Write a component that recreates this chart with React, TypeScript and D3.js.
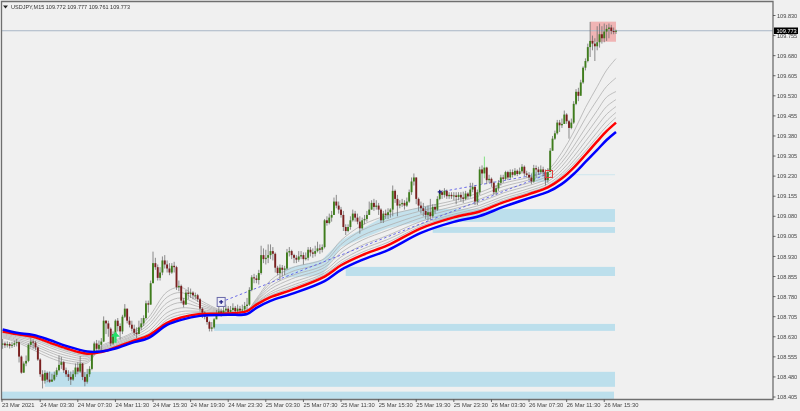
import React from "react";
import * as d3 from "d3";

const W = 800, H = 411;
// prices are stored as thousandths above 108.000
const closes = [605,598,603,596,600,606,610,556,496,530,540,600,612,608,590,545,490,466,495,470,462,470,488,505,525,535,505,490,480,470,490,515,500,530,480,462,490,510,570,605,585,600,612,690,680,660,605,640,690,670,650,705,735,690,675,660,645,640,665,680,700,755,750,830,905,890,850,870,915,900,885,870,895,890,815,820,765,750,795,790,795,785,785,770,735,720,705,685,660,665,695,718,
725,715,728,735,722,730,738,725,735,728,732,745,750,805,852,848,842,868,935,920,925,935,950,940,888,868,888,880,885,945,950,935,925,918,930,935,920,925,955,945,940,950,960,955,965,1065,1055,1075,1085,1135,1120,1105,1085,1040,1025,1040,1065,1090,1075,1060,1035,1065,1070,1085,1105,1130,1115,1120,1105,1065,1090,1085,1095,1105,1175,1145,1120,1125,1130,1120,1135,1170,1210,1225,1145,1120,1110,1100,1085,1095,1080,1115,1105,1145,1170,1160,1175,1155,1160,1155,1158,1152,1160,1150,1145,1165,1155,1180,1190,1135,1170,1255,1240,1262,1215,1220,1205,1170,1185,1205,1225,1220,1245,1225,1245,1235,1250,1238,1248,1265,1240,1235,1225,1210,1260,1255,1245,1255,1245,1215,1245,1325,1370,1390,1430,1420,1425,1460,1435,1410,1430,1500,1545,1530,1580,1635,1660,1712,1735,1725,1715,1730,1760,1745,1770,1780,1785,1772,1770,1773];
const highs = [622,612,613,610,611,616,622,612,560,538,560,605,625,620,614,595,550,505,505,500,500,492,500,515,560,555,540,515,505,500,505,530,535,558,532,498,510,520,575,612,618,616,625,706,692,690,665,650,695,700,680,712,752,735,705,690,675,665,690,700,710,765,765,840,948,925,900,890,930,935,915,905,905,910,895,840,825,775,805,815,810,800,795,790,775,740,725,710,690,685,700,730,
742,735,745,750,745,745,755,745,750,745,750,760,775,815,860,865,860,880,970,960,955,975,975,965,945,895,900,898,895,958,965,955,940,935,950,950,945,945,965,965,960,970,985,975,975,1070,1080,1090,1100,1150,1160,1135,1115,1100,1050,1050,1080,1105,1100,1090,1080,1075,1085,1100,1135,1140,1145,1140,1130,1110,1100,1105,1110,1110,1195,1180,1160,1140,1145,1140,1150,1180,1225,1240,1225,1150,1135,1130,1115,1120,1145,1125,1125,1155,1180,1178,1185,1180,1170,1170,1170,1170,1170,1170,1172,1175,1170,1205,1205,1195,1180,1265,1270,1303,1265,1235,1225,1210,1195,1215,1235,1235,1250,1250,1255,1255,1260,1255,1262,1275,1270,1250,1245,1240,1272,1270,1265,1270,1265,1255,1260,1335,1380,1400,1440,1440,1445,1475,1465,1440,1445,1510,1555,1560,1590,1640,1670,1725,1806,1755,1745,1790,1800,1790,1800,1795,1800,1795,1785,1777];
const lows = [585,588,590,586,588,592,594,534,492,495,520,535,590,585,580,540,480,437,455,460,458,465,465,480,500,510,495,480,465,450,465,480,490,495,468,445,455,480,505,565,570,580,575,610,640,630,595,600,635,650,620,640,700,680,665,650,635,625,640,655,670,695,720,750,830,880,840,840,860,885,870,860,865,870,805,800,755,740,750,770,775,770,770,760,725,700,695,675,650,650,660,700,
712,705,712,718,710,715,722,715,720,715,718,722,725,745,800,830,830,825,862,905,900,905,920,915,870,860,840,855,860,880,930,920,905,905,910,920,900,915,915,930,925,930,945,940,945,960,1045,1050,1060,1085,1110,1090,1075,1025,1010,1020,1030,1060,1060,1050,1015,1030,1050,1060,1085,1105,1100,1105,1085,1055,1055,1070,1070,1075,1080,1130,1080,1110,1115,1105,1115,1130,1160,1195,1125,1100,1090,1080,1070,1065,1065,1075,1090,1100,1140,1145,1150,1145,1145,1145,1140,1125,1140,1135,1130,1140,1145,1150,1170,1122,1122,1160,1200,1222,1200,1205,1190,1160,1160,1175,1195,1205,1215,1215,1220,1225,1230,1230,1235,1240,1230,1225,1215,1200,1205,1225,1235,1240,1230,1195,1205,1250,1325,1365,1385,1395,1410,1425,1425,1370,1405,1425,1495,1510,1540,1575,1625,1655,1675,1700,1660,1700,1710,1725,1730,1735,1745,1760,1760,1761];

const ribbonBars = [0,6,13,20,27,36,42,48,55,62,70,76,84,96,104,108,114,123,137,144,153,164,178,192,203,213,224,232,238,243,248,253,257,261];
const blueLine = [657,645,637,618,596,575,575,586,607,625,674,693,708,712,715,738,764,790,838,880,917,954,1018,1059,1081,1115,1148,1171,1201,1238,1283,1328,1365,1395];
const redLine = [650,640,630,608,587,567,573,590,613,634,682,702,715,717,726,750,778,805,855,897,935,972,1035,1076,1098,1132,1163,1188,1222,1262,1310,1360,1398,1430];
const grey1 = [648,637,625,602,581,563,575,593,616,633,694,713,721,718,726,752,784,813,862,906,946,983,1043,1082,1105,1139,1169,1194,1232,1275,1324,1376,1416,1449];
const grey2 = [645,634,620,597,576,560,578,596,620,641,705,724,725,718,727,755,790,821,868,915,957,994,1050,1088,1112,1146,1175,1201,1240,1287,1340,1394,1436,1468];
const grey3 = [642,630,614,590,569,556,581,599,624,651,720,738,732,719,728,757,797,832,877,928,972,1009,1061,1097,1121,1155,1184,1210,1252,1303,1360,1417,1461,1490];
const grey4 = [638,625,606,580,560,550,584,604,629,664,740,758,741,719,728,761,808,846,889,944,991,1028,1074,1108,1133,1167,1195,1221,1267,1323,1383,1444,1490,1516];
const grey5 = [634,620,598,572,551,544,587,608,634,675,757,775,749,720,729,764,819,858,899,958,1008,1045,1086,1117,1144,1178,1205,1231,1282,1342,1410,1475,1525,1546];
const grey6 = [630,615,590,562,542,538,591,613,640,688,778,795,758,720,729,768,830,873,911,975,1028,1065,1100,1129,1157,1191,1216,1243,1298,1368,1446,1515,1565,1597];
const grey7 = [626,610,581,552,533,532,595,618,645,701,798,814,767,721,730,772,841,887,922,990,1047,1084,1113,1139,1169,1203,1226,1253,1319,1395,1486,1564,1626,1669];

const zoneStart = [18,0,90,146,183,183,232];
const zoneHigh = [499,425,678,891,1040,1107,1238];
const zoneLow = [443,398,652,857,1018,1059,1233];
const wedgeBars = [120,136,144,164,182,182,164,144,136,120];
const wedgePts = [885,918,990,1088,1122,1068,1035,965,860,850];
const boxBars = [225,232,232,225];
const boxPts = [1245,1245,1208,1208];

const dashA = { bars: [93,182,232], pts: [760,1066,1238] };
const dashB = { bars: [186,232], pts: [1171,1243] };

const yTicks = [109.83,109.755,109.68,109.605,109.53,109.455,109.38,109.305,109.23,109.155,109.08,109.005,108.93,108.855,108.78,108.705,108.63,108.555,108.48,108.405];
const xTickLabels = ["23 Mar 2021","24 Mar 03:30","24 Mar 07:30","24 Mar 11:30","24 Mar 15:30","24 Mar 19:30","24 Mar 23:30","25 Mar 03:30","25 Mar 07:30","25 Mar 11:30","25 Mar 15:30","25 Mar 19:30","25 Mar 23:30","26 Mar 03:30","26 Mar 07:30","26 Mar 11:30","26 Mar 15:30"];
const xTickBars = [0,16,32,48,64,80,96,112,128,144,160,176,192,208,224,240,256];
const header = "USDJPY,M15  109.772 109.777 109.761 109.773";
const lastPrice = 109.773;

const x = d3.scaleLinear().domain([0, 261]).range([2.6, 616]);
const y = d3.scaleLinear().domain([108.405, 109.83]).range([397, 15.5]);
const yp = (p: number) => y(108 + p / 1000);
const font = "'Liberation Sans', sans-serif";

export default function App() {
  const line = d3.line<number>().x((_, i) => x(ribbonBars[i])).y((d) => yp(d)).curve(d3.curveCatmullRom.alpha(0.5));
  const greys = [grey1, grey2, grey3, grey4, grey5, grey6, grey7];
  const wedge = wedgeBars.map((b, i) => `${x(b)},${yp(wedgePts[i])}`).join(" ");
  const box = boxBars.map((b, i) => `${x(b)},${yp(boxPts[i])}`).join(" ");
  const dashLine = d3.line<number>().y((d) => yp(d));
  const dA = dashLine.x((_, i) => x(dashA.bars[i]))(dashA.pts) as string;
  const dB = dashLine.x((_, i) => x(dashB.bars[i]))(dashB.pts) as string;
  const mx = x(93), my = yp(760);
  const rx = x(232.5), ry = yp(1238);
  const ax = x(48), ay = yp(630);
  const px = x(186), py = yp(1171);
  return (
    <>
      <style>{`body{margin:0;background:#f0f0f0}`}</style>
      <svg width={W} height={H} viewBox={`0 0 ${W} ${H}`} style={{ display: "block", background: "#f0f0f0", filter: "blur(0.35px)" }}>
        {zoneStart.map((s, i) => (
          <rect key={i} x={x(s) - (s === 0 ? 1 : 0)} width={x(261) - x(s) - 1} y={yp(zoneHigh[i])} height={yp(zoneLow[i]) - yp(zoneHigh[i])} fill={i === 6 ? "#d6e8ee" : "#bcdfec"} />
        ))}
        <polygon points={wedge} fill="#c4e1ec" />
        <polygon points={box} fill="#c4e1ec" />
        <rect x={x(250)} y={yp(1807)} width={x(261) - x(250)} height={yp(1732) - yp(1807)} fill="#f0b4b4" />
        {greys.map((g, i) => (
          <path key={i} d={line(g) as string} fill="none" stroke="#b0b0b0" strokeWidth={0.8} />
        ))}
        <line x1={2} x2={773} y1={y(lastPrice)} y2={y(lastPrice)} stroke="#a9b6c6" strokeWidth={1} />
        <path d={dA} fill="none" stroke="#5a5ae6" strokeWidth={0.9} strokeDasharray="2.5 2.5" />
        <path d={dB} fill="none" stroke="#5a5ae6" strokeWidth={0.9} strokeDasharray="2.5 2.5" />
        {closes.map((c, i) => {
          const o = i === 0 ? 600 : closes[i - 1];
          const up = c >= o;
          const top = yp(Math.max(o, c));
          const bot = yp(Math.min(o, c));
          return (
            <g key={i}>
              <line x1={x(i)} x2={x(i)} y1={yp(highs[i])} y2={yp(lows[i])} stroke={i === 205 ? "#66dd66" : "#707070"} strokeWidth={0.8} />
              <rect x={x(i) - 0.95} width={1.9} y={top} height={Math.max(bot - top, 1)} fill={up ? "#3f7d1c" : "#7a1f1f"} />
            </g>
          );
        })}
        <path d={line(redLine) as string} fill="none" stroke="#ff0000" strokeWidth={2.5} />
        <path d={line(blueLine) as string} fill="none" stroke="#0000ff" strokeWidth={2.5} />
        <rect x={mx - 4} y={my - 4.5} width={8} height={9} fill="#eeeef8" stroke="#6a6aa8" strokeWidth={1} />
        <path d={`M${mx - 2} ${my}H${mx + 2}M${mx} ${my - 2}V${my + 2}`} stroke="#1a1a80" strokeWidth={1.2} />
        <path d={`M${px - 2} ${py}H${px + 2}M${px} ${py - 2}V${py + 2}`} stroke="#1a1a80" strokeWidth={1.2} />
        <rect x={rx - 3.5} y={ry - 3.5} width={7} height={7} fill="none" stroke="#e04040" strokeWidth={1} />
        <path d={`M${ax} ${ay - 5}L${ax - 4.5} ${ay}H${ax - 1.2}V${ay + 6}H${ax + 1.2}V${ay}H${ax + 4.5}Z`} fill="#25dd6a" />
        <path d="M1.5 399.5V1.5H773V399.5Z" fill="none" stroke="#6f6f6f" strokeWidth={1.3} />
        <path d="M3 5.5h5l-2.5 3z" fill="#222" />
        <text x={11} y={8.8} fontFamily={font} fontSize={6} fill="#333" textLength={119} lengthAdjust="spacingAndGlyphs">{header}</text>
        {yTicks.map((t) => (
          <g key={t}>
            <line x1={773} x2={775.5} y1={y(t)} y2={y(t)} stroke="#444" strokeWidth={0.8} />
            <text x={777} y={y(t) + 2.1} fontFamily={font} fontSize={5.6} fill="#444">{t.toFixed(3)}</text>
          </g>
        ))}
        <rect x={774} y={27.5} width={24} height={6.5} fill="#000" />
        <text x={776.5} y={32.9} fontFamily={font} fontSize={5.6} fill="#fff">{lastPrice.toFixed(3)}</text>
        {xTickBars.map((b, i) => (
          <g key={b}>
            <line x1={i === 0 ? 2 : x(b)} x2={i === 0 ? 2 : x(b)} y1={399.5} y2={402} stroke="#444" strokeWidth={0.8} />
            <text x={i === 0 ? 2 : x(b)} y={407} fontFamily={font} fontSize={5.8} fill="#444">{xTickLabels[i]}</text>
          </g>
        ))}
      </svg>
    </>
  );
}
